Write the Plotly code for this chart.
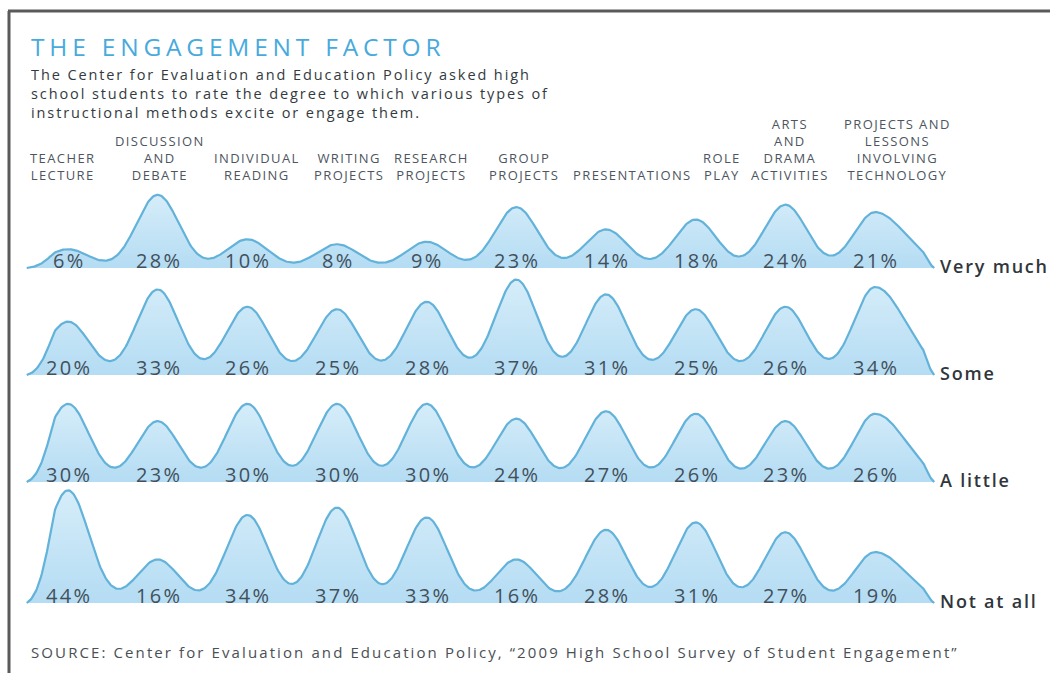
import numpy as np
import plotly.graph_objects as go

# ---------------- data ----------------
methods = [
    "TEACHER<br>LECTURE",
    "DISCUSSION<br>AND<br>DEBATE",
    "INDIVIDUAL<br>READING",
    "WRITING<br>PROJECTS",
    "RESEARCH<br>PROJECTS",
    "GROUP<br>PROJECTS",
    "PRESENTATIONS",
    "ROLE<br>PLAY",
    "ARTS<br>AND<br>DRAMA<br>ACTIVITIES",
    "PROJECTS AND<br>LESSONS<br>INVOLVING<br>TECHNOLOGY",
]
levels = ["Very much", "Some", "A little", "Not at all"]
very_much = [6, 28, 10, 8, 9, 23, 14, 18, 24, 21]
some = [20, 33, 26, 25, 28, 37, 31, 25, 26, 34]
a_little = [30, 23, 30, 30, 30, 24, 27, 26, 23, 26]
not_at_all = [44, 16, 34, 37, 33, 16, 28, 31, 27, 19]
series = [very_much, some, a_little, not_at_all]

title = "THE ENGAGEMENT FACTOR"
subtitle = [
    "The Center for Evaluation and Education Policy asked high",
    "school students to rate the degree to which various types of",
    "instructional methods excite or engage them.",
]
source = ("SOURCE: Center for Evaluation and Education Policy, "
          "\u201c2009 High School Survey of Student Engagement\u201d")

# ---------------- layout constants (pixels) ----------------
W, H = 1050, 673
X0, DX = 68.0, 89.67          # centre of first column, column spacing
baselines = [268, 375, 482, 603]
PX_PER_PCT, PEAK_BASE = 2.47, 4.0
SIG = 0.235 * DX
SIG_R = 0.34 * DX
XL, XR = X0 - 0.46 * DX, X0 + 9 * DX + 0.66 * DX
header_shift = [-6, 2, 10, 12, 5, 8, 26, 26, 5, 22]

FONT = "Open Sans"
TXT = "#43505b"
LINE = "rgb(98,178,218)"


def spaced(text, ls):
    """wrap each line of a text in a letter-spaced span"""
    return "<br>".join(f'<span style="letter-spacing:{ls}px">{t}</span>'
                       for t in text.split("<br>"))


centres = X0 + DX * np.arange(len(methods))
xs = np.linspace(XL, XR, 900)

fig = go.Figure()

for r, vals in enumerate(series):
    base = baselines[r]
    f = np.zeros_like(xs)
    for i, v in enumerate(vals):
        h = PX_PER_PCT * v + PEAK_BASE
        d = xs - centres[i]
        if i == len(vals) - 1:
            s = np.where(d > 0, SIG_R, SIG)
        else:
            s = SIG
        f += h * np.exp(-d ** 2 / (2 * s ** 2))
    ramp_l = np.clip((xs - XL) / (0.30 * DX), 0, 1)
    ramp_r = np.clip((XR - xs) / (0.12 * DX), 0, 1)
    f *= ramp_l * ramp_r
    yc = base - f
    px = np.concatenate([xs, xs[::-1]])
    py = np.concatenate([yc, np.full_like(xs, base)])
    fig.add_trace(go.Scatter(
        x=px, y=py, mode="lines", fill="toself",
        fillgradient=dict(type="vertical",
                          colorscale=[[0, "rgb(180,220,243)"], [1, "rgb(214,237,249)"]]),
        line=dict(width=0), hoverinfo="skip", showlegend=False))
    fig.add_trace(go.Scatter(
        x=xs, y=yc, mode="lines", line=dict(color=LINE, width=2.2),
        hoverinfo="skip", showlegend=False))
    for i, v in enumerate(vals):
        fig.add_annotation(x=centres[i] + 1, y=base - 8, text=spaced(f"{v}%", 2.3),
                           showarrow=False, xanchor="center", yanchor="middle",
                           font=dict(family=FONT, size=20, color=TXT))
    fig.add_annotation(x=938, y=base - 2, text=spaced(levels[r], 1.8), showarrow=False,
                       xanchor="left", yanchor="middle",
                       font=dict(family=FONT, size=18, color="#30363c", weight=600))

# column headers
for i, m in enumerate(methods):
    fig.add_annotation(x=centres[i] + header_shift[i], y=186, text=spaced(m, 1.4),
                       showarrow=False, xanchor="center", yanchor="bottom", align="center",
                       font=dict(family=FONT, size=13, color="#4d5560"))

# title + subtitle
fig.add_annotation(x=29, y=46, text=spaced(title, 4.8), showarrow=False,
                   xanchor="left", yanchor="middle",
                   font=dict(family=FONT, size=24.5, color="rgb(72,170,220)"))
fig.add_annotation(x=29, y=63, text="<br>".join(spaced(s, 1.9) for s in subtitle),
                   showarrow=False, xanchor="left", yanchor="top", align="left",
                   font=dict(family=FONT, size=14.5, color="#333a40", weight=500))
fig.add_annotation(x=29, y=652, text=spaced(source, 2.1), showarrow=False,
                   xanchor="left", yanchor="middle",
                   font=dict(family=FONT, size=15, color="#4a4f55"))

# frame
fig.add_shape(type="line", x0=8, x1=W, y0=11, y1=11, line=dict(color="#5a5a5a", width=3))
fig.add_shape(type="line", x0=9, x1=9, y0=11, y1=H, line=dict(color="#5a5a5a", width=3))

fig.update_layout(
    width=W, height=H, margin=dict(l=0, r=0, t=0, b=0),
    paper_bgcolor="white", plot_bgcolor="white",
    xaxis=dict(range=[0, W], visible=False, fixedrange=True),
    yaxis=dict(range=[H, 0], visible=False, fixedrange=True),
)
fig.write_html("out.html")
